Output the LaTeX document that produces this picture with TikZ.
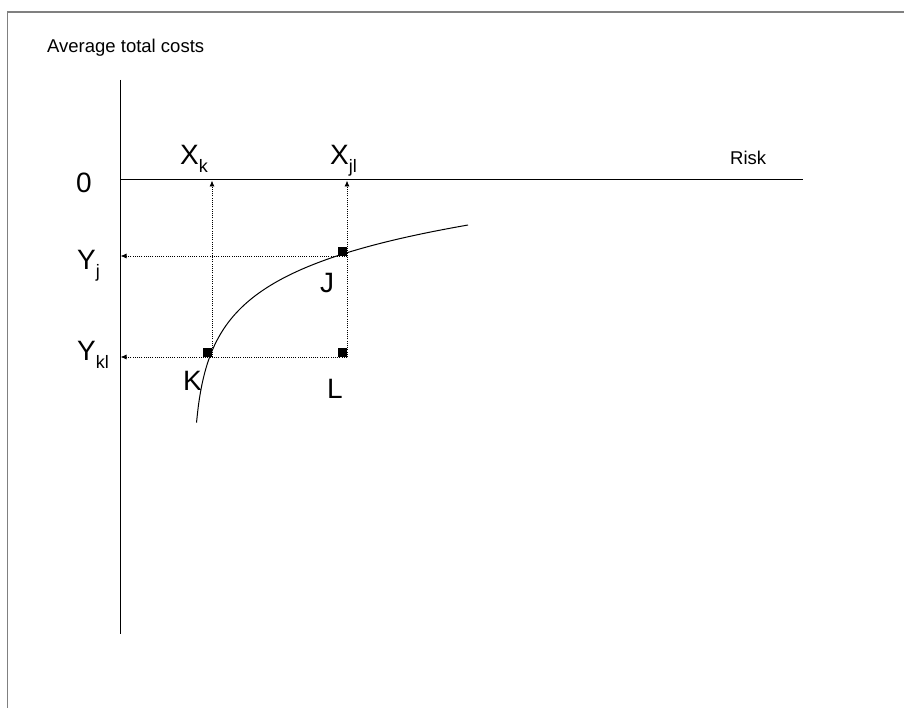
\documentclass[tikz,border=0pt]{standalone}
\usepackage{fontspec}
\setmainfont{Liberation Sans}
\usetikzlibrary{arrows.meta}
\definecolor{framegray}{HTML}{808080}
\newcommand\lowidx[1]{\raisebox{-8pt}{\fontsize{18}{18}\selectfont #1}}

\begin{document}
\begin{tikzpicture}[x=1pt,y=-1pt,
  axis/.style={line width=1pt},
  guide/.style={dash pattern=on 1pt off 1.2pt,line width=0.9pt,-{Latex[length=6pt,width=5pt]}},
  markbox/.style={fill,inner sep=0pt,minimum size=9pt,anchor=south east},
  lbl/.style={inner sep=0pt,anchor=base west,font=\fontsize{28}{30}\selectfont},
  small/.style={inner sep=0pt,anchor=base west,font=\fontsize{18.5}{20}\selectfont}]
  \useasboundingbox (0,0) rectangle (904,708);
  % ----- frame -----
  \draw[framegray,line width=1.5pt] (7.5,708) -- (7.5,12) -- (904,12);
  % ----- axes -----
  \coordinate (ytop) at (120,80);
  \coordinate (ybot) at (120,634);
  \coordinate (origin) at (120,180);
  \coordinate (xend) at (803,180);
  \draw[axis] (ytop) -- (ybot);
  \draw[axis] (origin) -- (xend);
  \node[small] (title) at (47,53){Average total costs};
  \node[small] (risk) at (730,165){Risk};
  \node[lbl] (zero) at (76,193){0};
  % ----- points -----
  \coordinate (K) at (212,357);
  \coordinate (L) at (347,357);
  \coordinate (J) at (347,256);
  \coordinate (xk) at (212,180.5);
  \coordinate (xjl) at (347,180.5);
  \coordinate (yj) at (120.5,256);
  \coordinate (ykl) at (120.5,357);
  % guides
  \draw[guide] (K) -- (xk);
  \draw[guide] (L) -- (xjl);
  \draw[guide] (J) -- (yj);
  \draw[guide] (L) -- (ykl);
  % cost curve
  \draw[line width=1pt] plot[domain=196.5:468,samples=150,smooth] (\x,{494.8-48*ln(\x-192)});
  \node[markbox] (Kmark) at (K){};
  \node[markbox] (Lmark) at (L){};
  \node[markbox] (Jmark) at (J){};
  % labels
  \node[lbl] (Xk) at (180,165){X\lowidx{k}};
  \node[lbl] (Xjl) at (330,165){X\lowidx{jl}};
  \node[lbl] (Yj) at (77,270){Y\lowidx{j}};
  \node[lbl] (Ykl) at (77,360){Y\lowidx{kl}};
  \node[lbl] (Klbl) at (183,390){K};
  \node[lbl] (Llbl) at (327,398){L};
  \node[lbl] (Jlbl) at (320,293){J};
\end{tikzpicture}
\end{document}
